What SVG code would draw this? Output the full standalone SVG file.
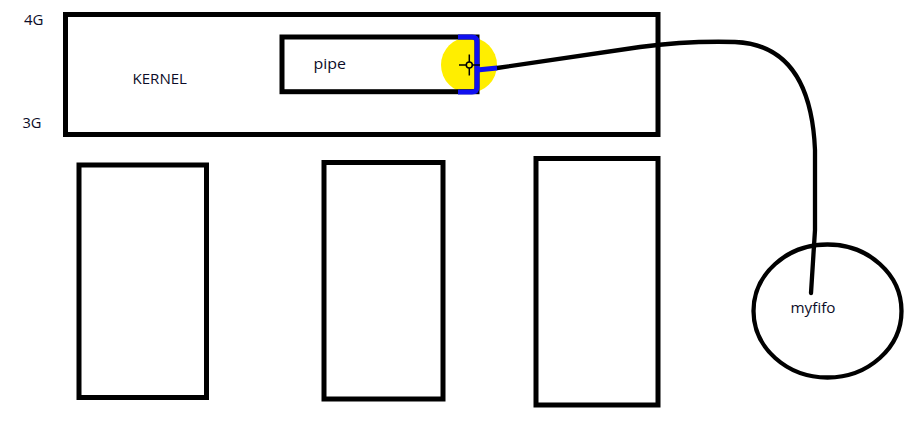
<svg xmlns="http://www.w3.org/2000/svg" width="920" height="432" viewBox="0 0 920 432">
<style>
.box{fill:none;stroke:#000;stroke-width:5}
.lbl{font-family:"Open Sans","Liberation Sans",sans-serif;font-size:15px;fill:#0c0c28}
.wire{fill:none;stroke:#000;stroke-width:4.3;stroke-linecap:round;stroke-linejoin:round}
.sel{fill:none;stroke:#1010f0;stroke-width:5;stroke-linejoin:round}
</style>
<rect width="920" height="432" fill="#fff"/>
<g id="labels">
<text class="lbl" x="24" y="25" textLength="19.5" lengthAdjust="spacingAndGlyphs">4G</text>
<text class="lbl" x="22.5" y="128" textLength="19" lengthAdjust="spacingAndGlyphs">3G</text>
</g>
<g id="kernel">
<rect class="box" x="65.5" y="14.5" width="592.5" height="120"/>
<text class="lbl" x="132.5" y="84" textLength="54.5" lengthAdjust="spacingAndGlyphs">KERNEL</text>
</g>
<g id="highlight">
<circle cx="469" cy="65" r="28" fill="#ffee00"/>
</g>
<g id="pipe">
<rect class="box" x="282" y="37" width="195" height="54.7"/>
<text class="lbl" x="313.5" y="68.5" textLength="32.5" lengthAdjust="spacingAndGlyphs">pipe</text>
<path class="sel" d="M458,37 H472 Q477,37 477,42 V87 Q477,92 472,92 H458"/>
</g>
<g id="proc1"><rect class="box" x="79" y="165" width="127.5" height="232.5"/></g>
<g id="proc2"><rect class="box" x="324" y="162.5" width="119" height="236.5"/></g>
<g id="proc3"><rect class="box" x="536" y="158.5" width="122" height="246.5"/></g>
<g id="myfifo">
<ellipse cx="827.5" cy="311" rx="74" ry="66.5" fill="none" stroke="#000" stroke-width="4.3"/>
<text class="lbl" x="790.5" y="313" textLength="45" lengthAdjust="spacingAndGlyphs">myfifo</text>
</g>
<g id="connectors">
<path class="wire" d="M497,68 L640,47 C670,43 700,41 735,42 C785,44 812,80 815,150 L815,230 L811,293"/>
<path class="sel" d="M477,70 L497,68"/>
</g>
<g id="cursor" stroke="#000" stroke-width="1.5" fill="none">
<line x1="459" y1="65" x2="480" y2="65"/>
<line x1="469.3" y1="54.5" x2="469.3" y2="75.5"/>
<circle cx="469.3" cy="65" r="3" fill="#ffee00"/>
</g>
</svg>
